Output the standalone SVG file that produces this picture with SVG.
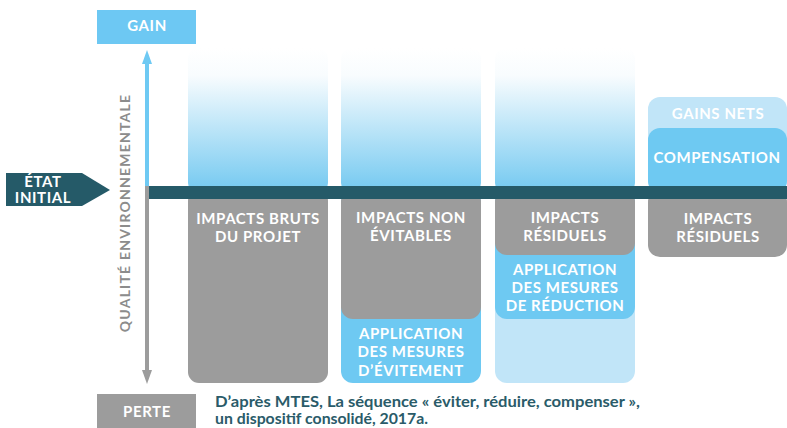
<svg xmlns="http://www.w3.org/2000/svg" width="787" height="428" viewBox="0 0 787 428">
  <defs>
    <linearGradient id="fade" x1="0" y1="48" x2="0" y2="187" gradientUnits="userSpaceOnUse">
      <stop offset="0" stop-color="#ffffff"/>
      <stop offset="0.2" stop-color="#f8fcfe"/>
      <stop offset="1" stop-color="#79cbf1"/>
    </linearGradient>
    <style>
      .lbl { font-family: Lato, "Liberation Sans", sans-serif; font-weight: 700; font-size: 15px; letter-spacing: 0.6px; fill: #ffffff; text-anchor: middle; }
      .gray { fill: #9c9c9c; }
      .blue { fill: #6ec9f2; }
      .pale { fill: #c1e5f8; }
      .fade { fill: url(#fade); }
      .cap { font-family: Lato, "Liberation Sans", sans-serif; font-weight: 700; font-size: 15.5px; fill: #2a5b69; }
    </style>
  </defs>

  <!-- axis end labels -->
  <g id="gain">
    <rect x="97" y="10" width="99" height="34" fill="#6dc8f3"/>
    <text class="lbl" x="147" y="31" font-size="14">GAIN</text>
  </g>
  <g id="perte">
    <rect x="97" y="394" width="99" height="34" fill="#9c9c9c"/>
    <text class="lbl" x="147" y="417" font-size="14">PERTE</text>
  </g>

  <!-- vertical axis caption -->
  <g id="axis-label">
    <text x="0" y="0" transform="translate(130,213) rotate(-90)" text-anchor="middle" font-family="Lato, 'Liberation Sans', sans-serif" font-weight="700" font-size="14" fill="#8c8c8c" letter-spacing="1.2">QUALITÉ ENVIRONNEMENTALE</text>
  </g>

  <!-- column 1: raw impacts -->
  <g id="col-bruts">
    <rect class="fade" x="188" y="48" width="140" height="145" rx="10"/>
    <rect class="gray" x="188" y="190" width="140" height="193" rx="11"/>
    <text class="lbl" x="258" y="224">IMPACTS BRUTS</text>
    <text class="lbl" x="258" y="242">DU PROJET</text>
  </g>

  <!-- column 2: avoidance -->
  <g id="col-evitement">
    <rect class="fade" x="341" y="48" width="140" height="145" rx="10"/>
    <rect class="blue" x="341" y="190" width="140" height="193" rx="12"/>
    <rect class="gray" x="341" y="190" width="140" height="129" rx="12"/>
    <text class="lbl" x="411" y="223">IMPACTS NON</text>
    <text class="lbl" x="411" y="241">ÉVITABLES</text>
    <text class="lbl" x="411" y="339">APPLICATION</text>
    <text class="lbl" x="411" y="357">DES MESURES</text>
    <text class="lbl" x="411" y="376">D’ÉVITEMENT</text>
  </g>

  <!-- column 3: reduction -->
  <g id="col-reduction">
    <rect class="fade" x="495" y="48" width="140" height="145" rx="10"/>
    <rect class="pale" x="495" y="190" width="140" height="193" rx="12"/>
    <rect class="blue" x="495" y="190" width="140" height="129" rx="12"/>
    <rect class="gray" x="495" y="190" width="140" height="65" rx="12"/>
    <text class="lbl" x="565" y="223">IMPACTS</text>
    <text class="lbl" x="565" y="241">RÉSIDUELS</text>
    <text class="lbl" x="565" y="275">APPLICATION</text>
    <text class="lbl" x="565" y="293">DES MESURES</text>
    <text class="lbl" x="565" y="311">DE RÉDUCTION</text>
  </g>

  <!-- column 4: offsetting -->
  <g id="col-compensation">
    <rect class="pale" x="648" y="97" width="139" height="96" rx="12"/>
    <rect class="blue" x="648" y="128" width="139" height="65" rx="12"/>
    <rect class="gray" x="648" y="190" width="139" height="67" rx="12"/>
    <text class="lbl" x="718" y="119">GAINS NETS</text>
    <text class="lbl" x="717" y="163">COMPENSATION</text>
    <text class="lbl" x="718" y="224">IMPACTS</text>
    <text class="lbl" x="718" y="242">RÉSIDUELS</text>
  </g>

  <!-- initial state baseline -->
  <g id="etat-initial">
    <rect x="149" y="186" width="638" height="13" fill="#255a68"/>
    <polygon points="6,173 82,173 110,190 82,206 6,206" fill="#255a68"/>
    <text class="lbl" x="43" y="187" font-size="12">ÉTAT</text>
    <text class="lbl" x="43" y="203" font-size="12">INITIAL</text>
  </g>

  <!-- quality axis arrows -->
  <g id="connectors">
    <rect x="145" y="62" width="4" height="125" fill="#6ec9f3"/>
    <polygon points="142,64 147,50 152,64" fill="#6ec9f3"/>
    <rect x="145" y="186" width="4" height="186" fill="#9c9c9c"/>
    <polygon points="142,370 147,384 152,370" fill="#9c9c9c"/>
  </g>

  <!-- source note -->
  <g id="source">
    <text class="cap" x="215" y="407" textLength="425" lengthAdjust="spacingAndGlyphs">D’après MTES, La séquence « éviter, réduire, compenser »,</text>
    <text class="cap" x="215" y="424" textLength="213" lengthAdjust="spacingAndGlyphs">un dispositif consolidé, 2017a.</text>
  </g>
</svg>
